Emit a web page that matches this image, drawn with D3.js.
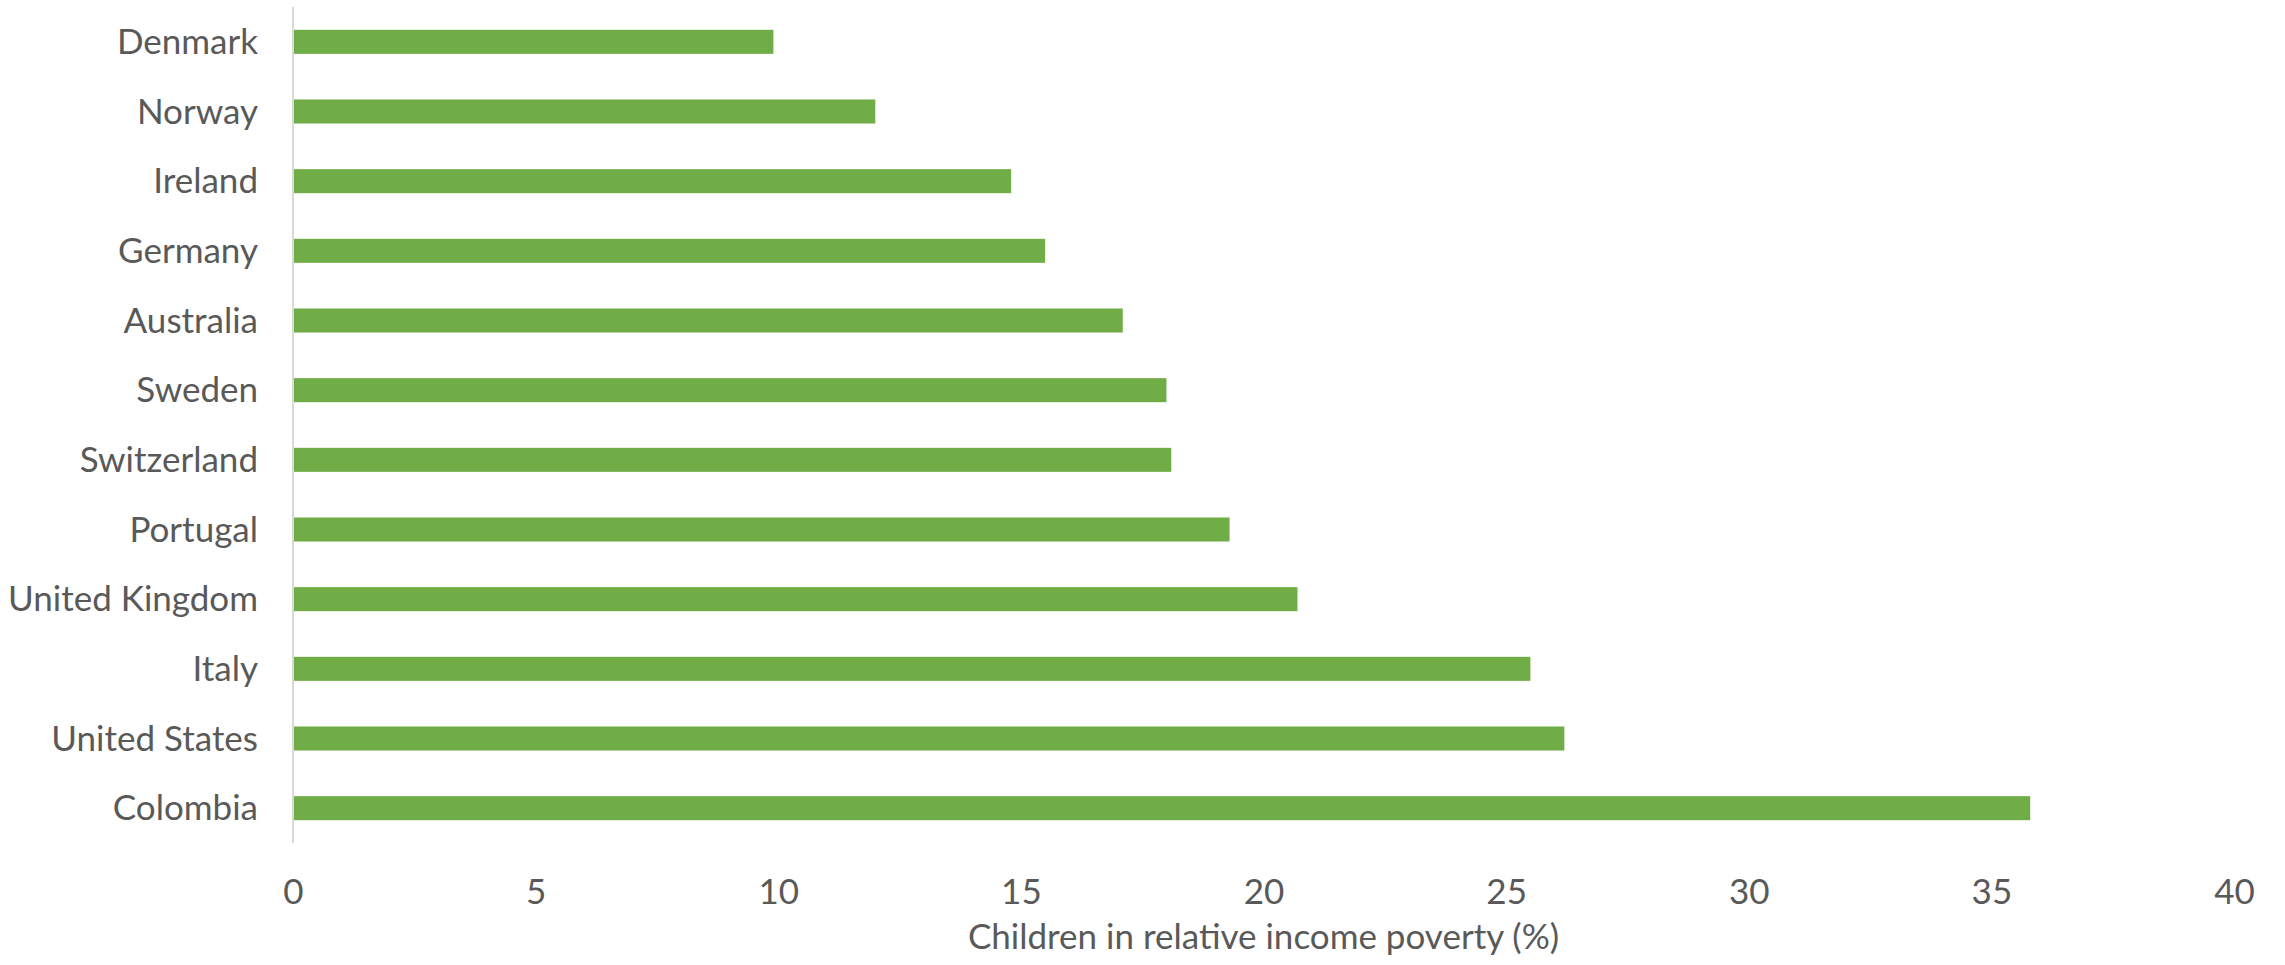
<!DOCTYPE html>
<html>
<head>
<meta charset="utf-8">
<script src="https://cdn.jsdelivr.net/npm/d3@7"></script>
<style>
  html, body { margin: 0; padding: 0; background: #ffffff; }
  svg { display: block; }
  text { font-family: Lato, "Open Sans", sans-serif; fill: #595959; }
</style>
</head>
<body>
<svg id="chart" width="2285" height="965"></svg>
<script>
const countries = ["Denmark", "Norway", "Ireland", "Germany", "Australia", "Sweden",
  "Switzerland", "Portugal", "United Kingdom", "Italy", "United States", "Colombia"];
const poverty = [9.9, 12.0, 14.8, 15.5, 17.1, 18.0, 18.1, 19.3, 20.7, 25.5, 26.2, 35.8];
const xTicks = [0, 5, 10, 15, 20, 25, 30, 35, 40];
const xTitle = "Children in relative income poverty (%)";

const data = countries.map((c, i) => ({ country: c, value: poverty[i] }));

const svg = d3.select("#chart");
const plotLeft = 293, plotRight = 2234, plotTop = 7, plotBottom = 843;
const fontSize = "35px";

const x = d3.scaleLinear().domain([0, 40]).range([plotLeft, plotRight]);
const y = d3.scaleBand().domain(countries).range([plotTop, plotBottom])
  .paddingInner(0.655).paddingOuter(0.3275);

// bars
svg.append("g").selectAll("rect").data(data).join("rect")
  .attr("x", x(0))
  .attr("y", d => y(d.country))
  .attr("width", d => x(d.value) - x(0))
  .attr("height", y.bandwidth())
  .attr("fill", "#70AD47");

// y axis (category)
const yAxis = d3.axisLeft(y).tickSize(0).tickPadding(35);
const gy = svg.append("g").attr("transform", `translate(${plotLeft},0)`).call(yAxis);
gy.select(".domain").attr("stroke", "#D9D9D9").attr("stroke-width", 2)
  .attr("d", `M0,${plotTop}V${plotBottom}`);
gy.selectAll("text").style("font-size", fontSize).attr("fill", "#595959")
  .attr("dy", "0.35em");

// x axis (values) - labels only
const xAxis = d3.axisBottom(x).tickValues(xTicks).tickSize(0).tickPadding(0);
const gx = svg.append("g").attr("transform", `translate(0,904)`).call(xAxis);
gx.select(".domain").remove();
gx.selectAll("text").style("font-size", fontSize).attr("fill", "#595959")
  .attr("dy", "0").attr("y", 0);

// axis title
svg.append("text")
  .attr("x", (plotLeft + plotRight) / 2)
  .attr("y", 949)
  .attr("text-anchor", "middle")
  .style("font-size", fontSize)
  .text(xTitle);
</script>
</body>
</html>
